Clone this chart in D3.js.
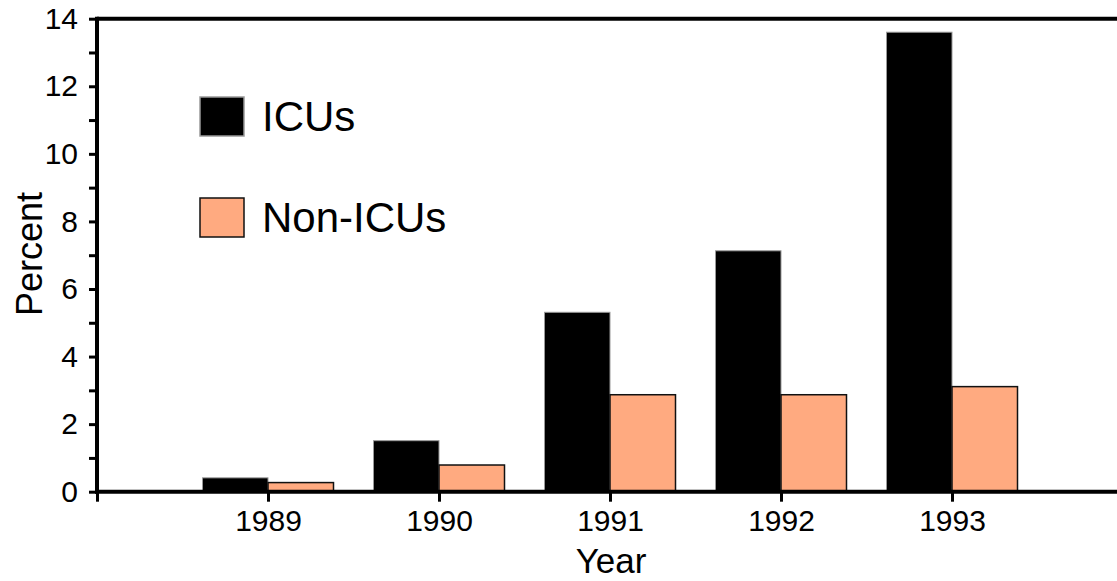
<!DOCTYPE html>
<html>
<head>
<meta charset="utf-8">
<script src="https://cdnjs.cloudflare.com/ajax/libs/d3/7.8.5/d3.min.js"></script>
<style>
body { margin: 0; background: #fff; }
text { font-family: Arial, "Liberation Sans", Helvetica, sans-serif; fill: #000; }
</style>
</head>
<body>
<div id="chart"></div>
<script>
var years = [1989, 1990, 1991, 1992, 1993];
var series = ["ICUs", "Non-ICUs"];
var icus = [0.41, 1.51, 5.31, 7.13, 13.6];
var nonIcus = [0.27, 0.79, 2.87, 2.87, 3.11];
var yTicks = [0, 2, 4, 6, 8, 10, 12, 14];
var colors = ["#000000", "#ffaa80"];

var width = 1117, height = 581;
var plotLeft = 97, plotTop = 18.7, plotBottom = 491.7;

var svg = d3.select("#chart")
	.append("svg")
	.attr("width", width)
	.attr("height", height)
	.style("display", "block");

var x = d3.scaleLinear().domain([1988, 1994]).range([plotLeft, 1123]);
var y = d3.scaleLinear().domain([0, 14]).range([plotBottom, plotTop]);
var sub = d3.scaleBand().domain(series).range([-65.5, 65.5]);

var rows = years.map(function(yr, i) {
	return [{year: yr, key: series[0], v: icus[i]}, {year: yr, key: series[1], v: nonIcus[i]}];
});

// bars
var group = svg.selectAll(".year")
	.data(rows)
	.enter().append("g")
	.attr("class", "year");

group.selectAll("rect")
	.data(function(d) { return d; })
	.enter().append("rect")
	.attr("x", function(d) { return x(d.year) + sub(d.key); })
	.attr("y", function(d) { return y(d.v); })
	.attr("width", sub.bandwidth())
	.attr("height", function(d) { return y(0) - y(d.v); })
	.style("fill", function(d) { return d.key == "ICUs" ? colors[0] : colors[1]; })
	.style("stroke", function(d) { return d.key == "ICUs" ? "#999" : "#111"; })
	.style("stroke-width", function(d) { return d.key == "ICUs" ? 1 : 1.5; });

// top frame line
svg.append("line")
	.attr("x1", plotLeft).attr("x2", width)
	.attr("y1", plotTop).attr("y2", plotTop)
	.style("stroke", "#000").style("stroke-width", 4);

// y axis
var yAxis = svg.append("g")
	.attr("transform", "translate(" + plotLeft + ",0)")
	.call(d3.axisLeft(y).tickValues(d3.range(0, 15, 1)).tickSize(8)
		.tickFormat(function(d) { return yTicks.indexOf(d) >= 0 ? d : ""; }));
yAxis.select(".domain").remove();
yAxis.selectAll(".tick line").style("stroke", "#000").style("stroke-width", 3);
yAxis.selectAll(".tick text")
	.attr("x", -19)
	.style("font-size", "30px")
	.style("font-family", "Arial, 'Liberation Sans', sans-serif");
svg.append("line")
	.attr("x1", plotLeft).attr("x2", plotLeft)
	.attr("y1", plotTop - 2).attr("y2", plotBottom + 2)
	.style("stroke", "#000").style("stroke-width", 4);

// x axis
var xAxis = svg.append("g")
	.attr("transform", "translate(0," + plotBottom + ")")
	.call(d3.axisBottom(x).tickValues([1988].concat(years)).tickSize(10)
		.tickFormat(function(d) { return d == 1988 ? "" : d; }));
xAxis.select(".domain").remove();
xAxis.selectAll(".tick line").style("stroke", "#000").style("stroke-width", 3);
xAxis.selectAll(".tick text")
	.attr("y", 18)
	.style("font-size", "30px")
	.style("font-family", "Arial, 'Liberation Sans', sans-serif");
svg.append("line")
	.attr("x1", plotLeft - 2).attr("x2", width)
	.attr("y1", plotBottom).attr("y2", plotBottom)
	.style("stroke", "#000").style("stroke-width", 4);

// axis titles
svg.append("text")
	.attr("x", 611).attr("y", 573)
	.attr("text-anchor", "middle")
	.style("font-size", "35px")
	.text("Year");

svg.append("text")
	.attr("transform", "translate(42,254) rotate(-90)")
	.attr("text-anchor", "middle")
	.style("font-size", "36px")
	.text("Percent");

// legend
var legend = svg.selectAll(".legend")
	.data(series)
	.enter().append("g")
	.attr("class", "legend")
	.attr("transform", function(d, i) { return "translate(200," + (97 + i * 101) + ")"; });

legend.append("rect")
	.attr("width", 44)
	.attr("height", 39)
	.style("fill", function(d, i) { return colors[i]; })
	.style("stroke", function(d, i) { return i == 0 ? "#999" : "#111"; })
	.style("stroke-width", 1.5);

legend.append("text")
	.attr("x", 62)
	.attr("y", 34)
	.style("font-size", "42px")
	.text(function(d) { return d; });
</script>
</body>
</html>
